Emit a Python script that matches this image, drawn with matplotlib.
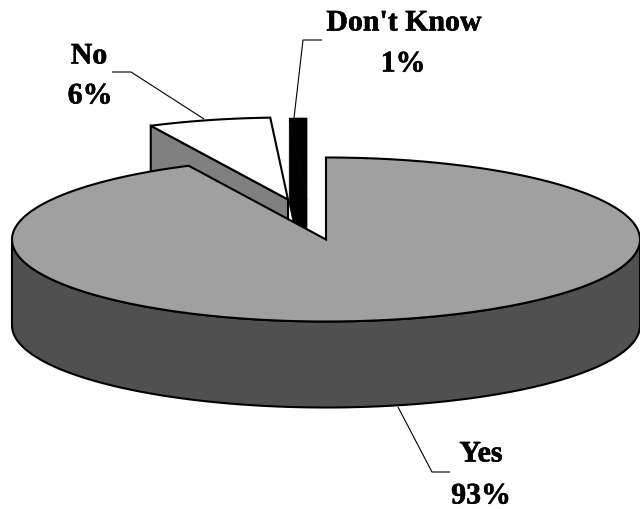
import numpy as np
import matplotlib
matplotlib.use("Agg")
import matplotlib.pyplot as plt
import matplotlib.patheffects as pe
from matplotlib.patches import Polygon

categories = ["Yes", "No", "Don't Know"]
values = [92.8, 6.3, 0.9]
labels = ["93%", "6%", "1%"]

CX, CY, RX, RY, DEPTH = 326, 240.5, 314, 82, 86
OFFSET = {"Yes": (0, 0), "No": (-38, -40), "Don't Know": (-19, -39.5)}
TOP = {"Yes": "#a0a0a0", "No": "#ffffff", "Don't Know": "#000000"}
LW = 1.5

fig = plt.figure(figsize=(6.4, 5.1), dpi=100)
ax = fig.add_axes([0, 0, 1, 1])
ax.set_xlim(0, 640)
ax.set_ylim(510, 0)
ax.axis("off")


def pt(t, off, dy=0):
    r = np.radians(t)
    return np.column_stack([CX + off[0] + RX * np.sin(r), CY + off[1] + dy - RY * np.cos(r)])


# sweep angles (clockwise from 12 o'clock) derived from the values
total = sum(values)
spans = {}
a = 0.0
for c, v in zip(categories, values):
    spans[c] = (a, a + 360.0 * v / total)
    a += 360.0 * v / total

# No slice: cut face then top
s, e = spans["No"]
off = OFFSET["No"]
apex = np.array([[CX + off[0], CY + off[1]]])
o = pt(s, off)
ax.add_patch(Polygon(np.vstack([apex, o, o + [0, DEPTH], apex + [0, DEPTH]]),
                     fc="#808080", ec="k", lw=LW, zorder=1))
ax.add_patch(Polygon(np.vstack([apex, pt(np.linspace(s, e, 30), off)]),
                     fc=TOP["No"], ec="k", lw=LW, joinstyle="miter", zorder=2))

# Don't Know slice: all black
s, e = spans["Don't Know"]
off = OFFSET["Don't Know"]
apex = np.array([[CX + off[0], CY + off[1]]])
o = pt(s, off)
ax.add_patch(Polygon(np.vstack([apex, o, o + [0, DEPTH], apex + [0, DEPTH]]),
                     fc="k", ec="k", lw=0.5, zorder=1))
ax.add_patch(Polygon(np.vstack([apex, pt(np.linspace(s, e, 10), off)]),
                     fc=TOP["Don't Know"], ec="k", lw=0.5, zorder=2))

# Yes slice: rim then top
s, e = spans["Yes"]
off = OFFSET["Yes"]
front = pt(np.linspace(90, 270, 120), off)
ax.add_patch(Polygon(np.vstack([front, front[::-1] + [0, DEPTH]]),
                     fc="#505050", ec="k", lw=LW, zorder=3))
apex = np.array([[CX, CY]])
ax.add_patch(Polygon(np.vstack([apex, pt(np.linspace(s, e, 240), off)]),
                     fc=TOP["Yes"], ec="k", lw=LW, joinstyle="miter", zorder=4))

# leader lines
lead = dict(color="k", lw=0.8, zorder=5, solid_capstyle="butt")
ax.plot([112, 131, 204], [73, 73, 120], **lead)
ax.plot([322, 303, 294], [41, 41, 119], **lead)
ax.plot([398, 432, 450], [408, 473, 473], **lead)

# labels
font = dict(family="Liberation Serif", fontweight="bold", fontsize=21.5,
            ha="center", va="center", color="k", zorder=6,
            path_effects=[pe.withStroke(linewidth=0.4, foreground="k")])
pos = {"Yes": (481, 455, 481, 497), "No": (89, 57, 90, 97), "Don't Know": (404, 24, 403, 65)}
for c, l in zip(categories, labels):
    x1, y1, x2, y2 = pos[c]
    ax.text(x1, y1, c, **font)
    ax.text(x2, y2, l, **font)

fig.savefig("out.png", dpi=100)
